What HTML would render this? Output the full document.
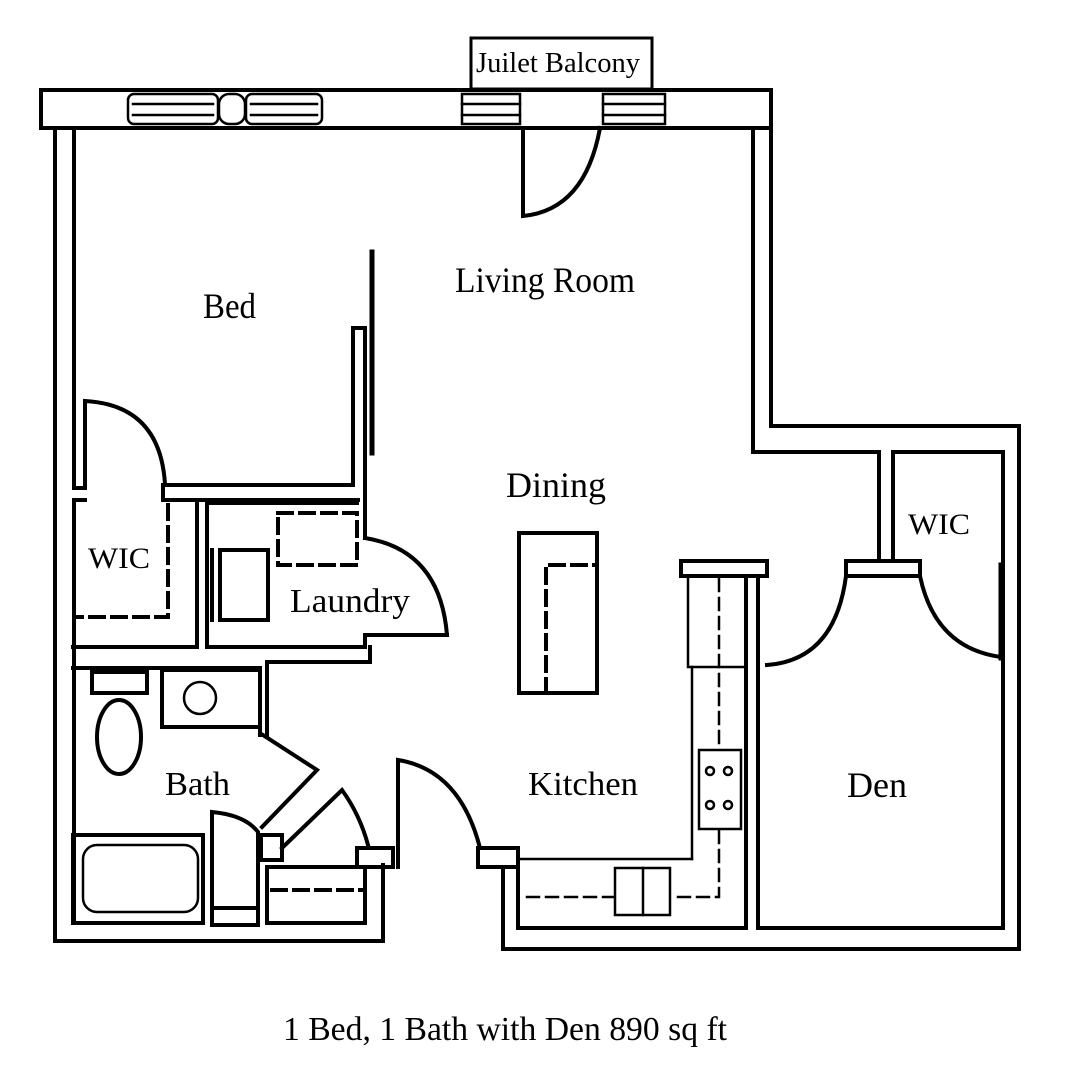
<!DOCTYPE html>
<html><head><meta charset="utf-8"><style>
html,body{margin:0;padding:0;background:#fff}
svg{display:block}
text{font-family:"Liberation Serif",serif;fill:#000}
</style></head><body>
<svg width="1080" height="1080" viewBox="0 0 1080 1080" xmlns="http://www.w3.org/2000/svg">
<g fill="none" stroke="#000" stroke-width="4" stroke-linecap="square">
<!-- balcony label box -->
<rect x="471" y="38" width="181" height="51" stroke-width="3"/>
<!-- top wall -->
<rect x="41" y="90" width="730" height="38"/>
<!-- windows -->
<g stroke-width="2.5">
<rect x="128" y="94" width="90" height="30" rx="6"/>
<line x1="133" y1="104" x2="213" y2="104"/><line x1="133" y1="115" x2="213" y2="115"/>
<rect x="246" y="94" width="76" height="30" rx="6"/>
<line x1="251" y1="104" x2="317" y2="104"/><line x1="251" y1="115" x2="317" y2="115"/>
<rect x="219" y="94" width="26" height="30" rx="10"/>
<rect x="462" y="94" width="58" height="30"/>
<line x1="462" y1="104" x2="520" y2="104"/><line x1="462" y1="115" x2="520" y2="115"/>
<rect x="603" y="94" width="62" height="30"/>
<line x1="603" y1="104" x2="665" y2="104"/><line x1="603" y1="115" x2="665" y2="115"/>
</g>
<!-- balcony door -->
<path d="M523 128 L523 216 Q585 210 600 128"/>
<!-- left outer walls -->
<line x1="55" y1="128" x2="55" y2="941"/>
<line x1="55" y1="941" x2="383" y2="941"/>
<line x1="383" y1="941" x2="383" y2="865"/>
<line x1="74" y1="128" x2="74" y2="488"/>
<line x1="74" y1="488" x2="85" y2="488"/>
<line x1="74" y1="500" x2="74" y2="923"/>
<line x1="74" y1="500" x2="85" y2="500"/>
<!-- bed WIC door -->
<path d="M85 487 L85 401 Q160 405 165 484"/>
<!-- bed bottom wall -->
<line x1="163" y1="485" x2="353" y2="485"/>
<line x1="163" y1="485" x2="163" y2="500"/>
<line x1="163" y1="500" x2="358" y2="500"/>
<line x1="353" y1="485" x2="353" y2="328"/>
<line x1="353" y1="328" x2="365" y2="328"/>
<line x1="365" y1="328" x2="365" y2="538"/>
<line x1="372" y1="252" x2="372" y2="453" stroke-width="5"/>
<!-- left WIC -->
<line x1="73" y1="647" x2="197" y2="647"/>
<line x1="197" y1="503" x2="197" y2="647"/>
<path d="M168 505 V617 H78" stroke-dasharray="14 8"/>
<!-- laundry -->
<line x1="207" y1="503" x2="207" y2="647"/>
<line x1="207" y1="503" x2="357" y2="503"/>
<line x1="207" y1="647" x2="365" y2="647"/>
<line x1="365" y1="647" x2="365" y2="635"/>
<line x1="365" y1="635" x2="447" y2="635"/>
<path d="M365 538 Q440 550 447 635"/>
<rect x="220" y="550" width="48" height="70"/>
<line x1="212" y1="550" x2="212" y2="620"/>
<rect x="278" y="513" width="79" height="52" stroke-dasharray="14 8"/>
<!-- bath/laundry separator -->
<line x1="73" y1="668" x2="260" y2="668"/>
<line x1="267" y1="662" x2="370" y2="662"/>
<line x1="370" y1="662" x2="370" y2="647"/>
<line x1="260" y1="668" x2="260" y2="735"/>
<line x1="267" y1="662" x2="267" y2="735"/>
<rect x="162" y="670" width="98" height="57"/>
<circle cx="200" cy="698" r="16" stroke-width="2.5"/>
<rect x="92" y="672" width="55" height="21"/>
<ellipse cx="119" cy="737" rx="22" ry="37"/>
<path d="M263 735 L317 770 L262 827"/>
<path d="M282 848 L342 790 Q360 815 368 845"/>
<rect x="261" y="835" width="21" height="25"/>
<rect x="357" y="848" width="36" height="19"/>
<!-- tub -->
<rect x="73" y="835" width="130" height="88"/>
<rect x="83" y="845" width="115" height="67" rx="14" stroke-width="2.5"/>
<path d="M212 925 V812 Q245 815 258 832 V925 Z"/>
<line x1="212" y1="908" x2="258" y2="908"/>
<!-- lower closet -->
<rect x="267" y="867" width="98" height="56"/>
<line x1="272" y1="890" x2="362" y2="890" stroke-dasharray="14 8"/>
<!-- kitchen door -->
<path d="M398 867 L398 760 Q460 770 480 848"/>
<path d="M478 848 H518 V867 H478 Z" fill="#fff"/>
<line x1="503" y1="867" x2="503" y2="949"/>
<line x1="518" y1="867" x2="518" y2="928"/>
<!-- right side outer -->
<line x1="753" y1="128" x2="753" y2="452"/>
<line x1="771" y1="128" x2="771" y2="426"/>
<line x1="771" y1="426" x2="1019" y2="426"/>
<line x1="753" y1="452" x2="879" y2="452"/>
<line x1="1019" y1="426" x2="1019" y2="949"/>
<line x1="503" y1="949" x2="1019" y2="949"/>
<line x1="518" y1="928" x2="746" y2="928"/>
<line x1="758" y1="928" x2="1003" y2="928"/>
<line x1="1003" y1="452" x2="1003" y2="928"/>
<!-- den WIC -->
<line x1="879" y1="452" x2="879" y2="561"/>
<line x1="893" y1="452" x2="893" y2="561"/>
<line x1="893" y1="452" x2="1003" y2="452"/>
<rect x="846" y="561" width="74" height="15" fill="#fff"/>
<line x1="1001" y1="565" x2="1001" y2="658" stroke-width="5"/>
<path d="M767 665 Q835 660 846 576"/>
<path d="M920 576 Q935 648 1001 657"/>
<!-- den/kitchen wall -->
<rect x="681" y="561" width="86" height="15" fill="#fff"/>
<line x1="746" y1="576" x2="746" y2="928"/>
<line x1="758" y1="576" x2="758" y2="928"/>
<line x1="758" y1="576" x2="767" y2="576"/>
<!-- counter -->
<g stroke-width="2.5">
<rect x="688" y="576" width="58" height="91"/>
<line x1="692" y1="667" x2="692" y2="859"/>
<line x1="518" y1="859" x2="692" y2="859"/>
<rect x="699" y="750" width="42" height="79" fill="#fff"/>
<circle cx="710" cy="771" r="4"/><circle cx="728" cy="771" r="4"/>
<circle cx="710" cy="805" r="4"/><circle cx="728" cy="805" r="4"/>
<path d="M719 579 V748 M719 831 V897 H672 M615 897 H520" stroke-dasharray="12 7"/>
<rect x="615" y="868" width="55" height="47" fill="#fff"/>
<line x1="643" y1="868" x2="643" y2="915"/>
</g>
<!-- island -->
<rect x="519" y="533" width="78" height="160"/>
<path d="M546 693 V565 H597" stroke-dasharray="14 8"/>
</g>
<g>
<text x="476" y="72" font-size="28" textLength="164" lengthAdjust="spacingAndGlyphs">Juilet Balcony</text>
<text x="203" y="318" font-size="36" textLength="53" lengthAdjust="spacingAndGlyphs">Bed</text>
<text x="455" y="292" font-size="36" textLength="180" lengthAdjust="spacingAndGlyphs">Living Room</text>
<text x="506" y="497" font-size="36" textLength="100" lengthAdjust="spacingAndGlyphs">Dining</text>
<text x="88" y="568" font-size="30" textLength="62" lengthAdjust="spacingAndGlyphs">WIC</text>
<text x="290" y="612" font-size="34" textLength="120" lengthAdjust="spacingAndGlyphs">Laundry</text>
<text x="165" y="795" font-size="34" textLength="65" lengthAdjust="spacingAndGlyphs">Bath</text>
<text x="528" y="795" font-size="34" textLength="110" lengthAdjust="spacingAndGlyphs">Kitchen</text>
<text x="847" y="797" font-size="36" textLength="60" lengthAdjust="spacingAndGlyphs">Den</text>
<text x="908" y="534" font-size="30" textLength="62" lengthAdjust="spacingAndGlyphs">WIC</text>
<text x="283" y="1040" font-size="34" textLength="444" lengthAdjust="spacingAndGlyphs">1 Bed, 1 Bath with Den 890 sq ft</text>
</g>
</svg>
</body></html>
